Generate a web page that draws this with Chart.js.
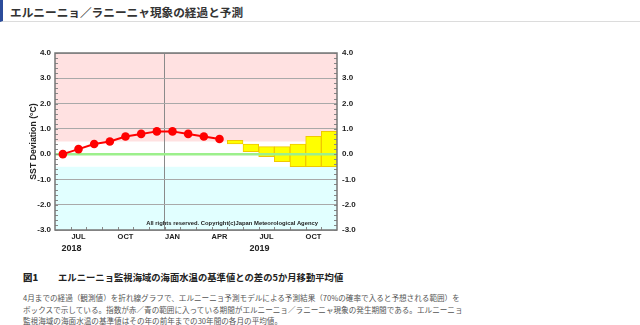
<!DOCTYPE html>
<html lang="ja">
<head>
<meta charset="utf-8">
<script src="https://cdn.jsdelivr.net/npm/chart.js@4"></script>
<style>
  body { margin: 0; background: #fff; width: 640px; height: 325px; position: relative; overflow: hidden; font-family: "Noto Sans CJK JP", "Noto Sans", sans-serif; }
  .head { position: absolute; left: 0; top: 0; width: 637px; height: 21px; border-left: 3px solid #2b4c9b; border-bottom: 1px solid #dcdcdc; }
  .head span { position: absolute; left: 7px; top: 2px; line-height: 20px; font-size: 11.6px; font-weight: bold; color: #333; white-space: nowrap; }
  #chart { position: absolute; left: 0; top: 30px; }
  .cap { position: absolute; left: 23px; top: 270px; line-height: 14px; font-size: 9.4px; font-weight: bold; color: #222; white-space: nowrap; }
  .cap b { display: inline-block; width: 35px; }
  .cap span { display: inline-block; }
  .note { position: absolute; left: 23px; top: 292px; line-height: 11.5px; font-size: 7.7px; color: #555; white-space: nowrap; }
</style>
</head>
<body>
<div class="head"><span id="headText">エルニーニョ／ラニーニャ現象の経過と予測</span></div>
<canvas id="chart" width="640" height="230"></canvas>
<div class="cap"><b>図1</b><span id="capText">エルニーニョ監視海域の海面水温の基準値との差の5か月移動平均値</span></div>
<div class="note" id="note">4月までの経過（観測値）を折れ線グラフで、エルニーニョ予測モデルによる予測結果（70%の確率で入ると予想される範囲）を<br>ボックスで示している。指数が赤／青の範囲に入っている期間がエルニーニョ／ラニーニャ現象の発生期間である。エルニーニョ<br>監視海域の海面水温の基準値はその年の前年までの30年間の各月の平均値。</div>
<script>
const months = ['JUN', 'JUL', 'AUG', 'SEP', 'OCT', 'NOV', 'DEC', 'JAN', 'FEB', 'MAR', 'APR', 'MAY', 'JUN', 'JUL', 'AUG', 'SEP', 'OCT', 'NOV'];
const tickLabels = ['', 'JUL', '', '', 'OCT', '', '', 'JAN', '', '', 'APR', '', '', 'JUL', '', '', 'OCT', ''];
const yearLabels = ['', '2018', '', '', '', '', '', '', '', '', '', '', '', '2019', '', '', '', ''];
const observed = [0.0, 0.2, 0.4, 0.5, 0.7, 0.8, 0.9, 0.9, 0.8, 0.7, 0.6, null, null, null, null, null, null, null];
const boxLow = [null, null, null, null, null, null, null, null, null, null, null, 0.4, 0.1, -0.1, -0.3, -0.5, -0.5, -0.5];
const boxHigh = [null, null, null, null, null, null, null, null, null, null, null, 0.55, 0.4, 0.3, 0.3, 0.4, 0.7, 0.9];
const yTicks = [-3, -2, -1, 0, 1, 2, 3, 4];
const elNinoLevel = 0.5;
const laNinaLevel = -0.5;

function fitWidth(id, width) {
  const el = document.getElementById(id);
  const size = parseFloat(getComputedStyle(el).fontSize);
  el.style.fontSize = (size * width / el.getBoundingClientRect().width).toFixed(2) + 'px';
}

fitWidth('headText', 233);
fitWidth('capText', 285);
fitWidth('note', 439);

Chart.defaults.font.family = '"Liberation Sans", Arial, sans-serif';
Chart.defaults.color = '#222';

const boxes = boxLow.map((lo, i) => (lo === null ? null : [lo, boxHigh[i]]));
const yearStart = months.indexOf('JAN');

const frame = {
  id: 'frame',
  beforeDraw(chart) {
    const { ctx, chartArea: a, scales: { y } } = chart;
    const top = y.getPixelForValue(elNinoLevel);
    const bottom = y.getPixelForValue(laNinaLevel);
    ctx.save();
    ctx.fillStyle = '#ffe1e1';
    ctx.fillRect(a.left, a.top, a.right - a.left, top - a.top);
    ctx.fillStyle = '#e1ffff';
    ctx.fillRect(a.left, bottom, a.right - a.left, a.bottom - bottom);
    ctx.restore();
  },
  afterDatasetDraw(chart, args) {
    if (args.index !== 1) return;
    const { ctx, chartArea: a, scales: { y } } = chart;
    const zero = y.getPixelForValue(0);
    ctx.save();
    ctx.strokeStyle = '#9cf08c';
    ctx.lineWidth = 2.5;
    ctx.beginPath();
    ctx.moveTo(a.left, zero);
    ctx.lineTo(a.right, zero);
    ctx.stroke();
    ctx.restore();
  },
  afterDraw(chart) {
    const { ctx, chartArea: a, scales: { x, y } } = chart;
    ctx.save();
    ctx.strokeStyle = '#888';
    ctx.lineWidth = 1;
    ctx.beginPath();
    for (let v = yTicks[0]; v <= yTicks[yTicks.length - 1] + 0.01; v += 0.2) {
      const py = Math.round(y.getPixelForValue(v)) + 0.5;
      ctx.moveTo(a.left, py);
      ctx.lineTo(a.left + 3, py);
      ctx.moveTo(a.right, py);
      ctx.lineTo(a.right - 3, py);
    }
    for (let i = 1; i < months.length; i += 1) {
      const px = Math.round((x.getPixelForValue(i - 1) + x.getPixelForValue(i)) / 2) + 0.5;
      ctx.moveTo(px, a.bottom);
      ctx.lineTo(px, a.bottom - 3);
    }
    ctx.stroke();
    ctx.strokeStyle = '#777';
    ctx.lineWidth = 1.5;
    ctx.strokeRect(a.left, a.top, a.right - a.left, a.bottom - a.top);
    ctx.fillStyle = '#222';
    ctx.font = 'bold 5.85px "Liberation Sans", Arial, sans-serif';
    ctx.textAlign = 'right';
    ctx.fillText('All rights reserved. Copyright(c)Japan Meteorological Agency', a.right - 19, a.bottom - 5);
    ctx.restore();
  },
};

const tickFont = { size: 8, weight: 'bold' };

new Chart(document.getElementById('chart'), {
  type: 'bar',
  data: {
    labels: months,
    datasets: [
      { type: 'line', data: observed, borderColor: '#ff0000', borderWidth: 2, pointRadius: 4.3, pointBackgroundColor: '#ff0000', pointBorderWidth: 0, order: 1 },
      { type: 'bar', data: boxes, backgroundColor: '#ffff00', borderColor: '#f0c800', borderWidth: 1, borderSkipped: false, barPercentage: 1, categoryPercentage: 1, order: 2 },
    ],
  },
  options: {
    responsive: false,
    animation: false,
    layout: { padding: { left: 22, right: 263, top: 23, bottom: 0 } },
    plugins: { legend: { display: false }, tooltip: { enabled: false } },
    scales: {
      x: {
        type: 'category',
        offset: true,
        grid: { offset: true, drawTicks: false, color: (c) => (c.index === yearStart ? '#8a8a8a' : 'transparent') },
        border: { display: false },
        ticks: { autoSkip: false, maxRotation: 0, padding: 2, font: { size: 7.5, weight: 'bold' }, callback: (v, i) => tickLabels[i] },
        afterFit: (s) => { s.height = 12; },
      },
      xYear: {
        type: 'category',
        position: 'bottom',
        weight: 1,
        offset: true,
        grid: { display: false, drawTicks: false },
        border: { display: false },
        ticks: { autoSkip: false, maxRotation: 0, padding: 1, labelOffset: -7, font: { size: 9, weight: 'bold' }, callback: (v, i) => yearLabels[i] },
        afterFit: (s) => { s.height = 18; },
      },
      y: {
        min: yTicks[0],
        max: yTicks[yTicks.length - 1],
        grid: { drawTicks: false, color: (c) => (c.tick && c.tick.value === 0 ? 'transparent' : '#a9a9a9') },
        border: { display: false },
        ticks: { stepSize: 1, padding: 4, font: tickFont, callback: (v) => v.toFixed(1) },
        title: { display: true, text: 'SST Deviation (°C)', font: { size: 8.7, weight: 'bold' }, padding: { top: 6, bottom: 0 } },
        afterFit: (s) => { s.width = 33; },
      },
      y2: {
        position: 'right',
        min: yTicks[0],
        max: yTicks[yTicks.length - 1],
        grid: { drawOnChartArea: false, drawTicks: false },
        border: { display: false },
        ticks: { stepSize: 1, padding: 5, font: tickFont, callback: (v) => v.toFixed(1) },
        afterFit: (s) => { s.width = 40; },
      },
    },
  },
  plugins: [frame],
});
</script>
</body>
</html>
